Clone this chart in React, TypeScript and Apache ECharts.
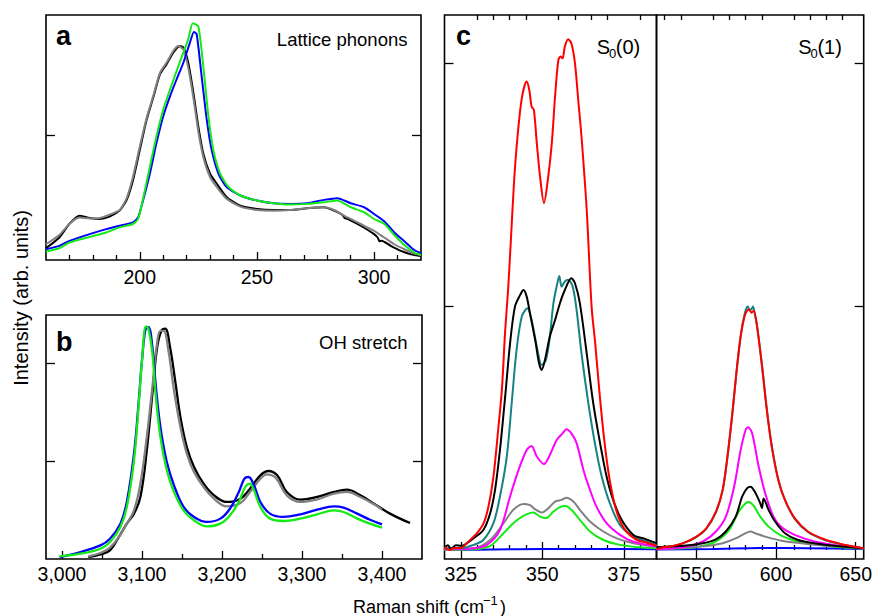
import React, { useEffect, useRef } from 'react';
import * as echarts from 'echarts';

const FONT = "'Liberation Sans', Arial, Helvetica, sans-serif";

// ---------- Panel a: Lattice phonons ----------
const aXMajor = [200, 250, 300];
const aXMinor = [170, 180, 190, 210, 220, 230, 240, 260, 270, 280, 290, 310];
const aYTicks = [1];
const aBlack = [[160,0.094],[165.7,0.18],[170,0.29],[174.3,0.355],[178.6,0.336],[182.9,0.328],[187.1,0.347],[191.4,0.395],[194.3,0.476],[197.1,0.637],[200,0.879],[202.9,1.12],[205.7,1.296],[208.6,1.484],[211.4,1.565],[214.3,1.659],[217.1,1.712],[218.6,1.70],[220.7,1.578],[222.9,1.336],[225,1.067],[227.1,0.852],[230,0.69],[232.9,0.61],[237.1,0.503],[242.9,0.435],[250,0.409],[257.1,0.40],[264.3,0.40],[271.4,0.414],[278.6,0.422],[282.9,0.395],[286.5,0.36],[287.5,0.335],[288.6,0.33],[294.3,0.274],[300,0.207],[301.5,0.18],[302.3,0.15],[303.2,0.155],[307.1,0.113],[311.4,0.073],[315.7,0.046],[320,0.032]];
const aGray = [[160,0.126],[165.7,0.2],[170,0.29],[174.3,0.34],[178.6,0.333],[182.9,0.336],[187.1,0.363],[191.4,0.40],[194.3,0.489],[197.1,0.664],[200,0.906],[202.9,1.134],[205.7,1.309],[208.6,1.497],[211.4,1.578],[214.3,1.672],[216.4,1.712],[218.6,1.685],[220.7,1.538],[222.9,1.296],[225,1.027],[227.1,0.825],[230,0.664],[232.9,0.583],[237.1,0.489],[242.9,0.427],[250,0.40],[257.1,0.395],[264.3,0.40],[271.4,0.414],[278.6,0.422],[282.9,0.40],[288.6,0.341],[294.3,0.288],[300,0.234],[304.3,0.18],[308.6,0.126],[312.9,0.086],[317.1,0.051],[320,0.04]];
const aBlue = [[160,0.086],[165.7,0.113],[170,0.153],[178.6,0.207],[185.7,0.247],[191.4,0.274],[197.1,0.301],[199.3,0.341],[201.4,0.476],[204.3,0.69],[207.1,0.933],[210,1.148],[212.9,1.309],[215.7,1.444],[218.6,1.578],[221.4,1.739],[223.1,1.825],[224.3,1.806],[226.4,1.47],[228.6,1.121],[230.7,0.879],[233.6,0.69],[237.1,0.583],[242.9,0.516],[250,0.476],[257.1,0.454],[264.3,0.449],[271.4,0.454],[278.6,0.481],[284.3,0.495],[290,0.454],[295.7,0.422],[300,0.368],[304.3,0.31],[308.6,0.22],[312.9,0.15],[317.1,0.08],[320,0.054]];
const aGreen = [[160,0.067],[165.7,0.094],[170,0.14],[178.6,0.185],[185.7,0.22],[191.4,0.261],[197.1,0.288],[199.3,0.328],[201.4,0.489],[204.3,0.745],[207.1,0.987],[210,1.202],[212.9,1.363],[215.7,1.511],[218.6,1.659],[220.7,1.766],[222.6,1.895],[225,1.868],[227.1,1.551],[229.3,1.148],[231.4,0.879],[234.3,0.69],[237.9,0.583],[242.9,0.516],[250,0.476],[257.1,0.454],[264.3,0.444],[271.4,0.449],[278.6,0.462],[284.3,0.476],[290,0.422],[295.7,0.382],[300,0.328],[304.3,0.29],[308.6,0.2],[312.9,0.12],[317.1,0.06],[320,0.04]];

// ---------- Panel b: OH stretch ----------
const bXMajor = [3000, 3100, 3200, 3300, 3400];
const bXMinor = [3050, 3150, 3250, 3350];
const bYTicks = [1, 2];
const bBlack = [[3033,0.02],[3048,0.048],[3060,0.088],[3071,0.224],[3081,0.361],[3090,0.463],[3098,0.633],[3106,1.109],[3113,1.687],[3119,2.163],[3125,2.34],[3129,2.35],[3135,2.163],[3142,1.789],[3148,1.449],[3156,1.143],[3165,0.939],[3177,0.769],[3190,0.65],[3206,0.582],[3223,0.616],[3235,0.718],[3248,0.854],[3258,0.898],[3269,0.854],[3281,0.684],[3298,0.605],[3319,0.633],[3340,0.684],[3356,0.707],[3373,0.65],[3390,0.565],[3410,0.463],[3435,0.367]];
const bGray = [[3033,0.027],[3048,0.061],[3060,0.116],[3071,0.224],[3081,0.361],[3090,0.497],[3098,0.769],[3106,1.245],[3113,1.755],[3119,2.214],[3123,2.327],[3127,2.327],[3133,2.129],[3140,1.721],[3148,1.347],[3156,1.075],[3165,0.888],[3177,0.735],[3190,0.616],[3206,0.537],[3223,0.571],[3235,0.684],[3248,0.82],[3256,0.864],[3267,0.83],[3281,0.65],[3298,0.582],[3319,0.609],[3340,0.667],[3356,0.684],[3373,0.633],[3390,0.558],[3400,0.503]];
const bBlue = [[2997,0.02],[3023,0.071],[3048,0.139],[3060,0.207],[3073,0.361],[3081,0.582],[3090,1.075],[3096,1.619],[3100,2.027],[3105,2.361],[3108,2.367],[3113,2.163],[3117,1.789],[3123,1.347],[3131,0.99],[3140,0.752],[3152,0.531],[3165,0.429],[3181,0.378],[3198,0.412],[3210,0.514],[3221,0.684],[3228,0.82],[3233,0.837],[3240,0.752],[3248,0.582],[3260,0.463],[3277,0.429],[3298,0.456],[3319,0.503],[3340,0.537],[3352,0.524],[3369,0.463],[3385,0.401],[3400,0.354]];
const bGreen = [[2997,0.027],[3023,0.054],[3048,0.105],[3060,0.173],[3073,0.327],[3081,0.53],[3090,1.007],[3096,1.585],[3100,2.027],[3105,2.374],[3108,2.35],[3113,2.095],[3117,1.687],[3123,1.245],[3131,0.905],[3140,0.684],[3152,0.497],[3165,0.395],[3181,0.333],[3198,0.361],[3210,0.446],[3221,0.582],[3229,0.735],[3235,0.769],[3240,0.70],[3248,0.531],[3260,0.412],[3277,0.388],[3298,0.412],[3319,0.456],[3340,0.497],[3352,0.48],[3369,0.412],[3385,0.361],[3400,0.32]];

// ---------- Panel c, left: S0(0) ----------
const cLXMajor = [325, 350, 375];
const cLXMinor = [330, 335, 340, 345, 355, 360, 365, 370, 380];
const cYTicks = [1, 2];
const cLRed = [[320,0.012],[321.5,0.0],[323,0.008],[325,0.008],[327,0.03],[330,0.07],[332,0.11],[333.5,0.18],[335,0.3],[336.5,0.5],[337.6,0.66],[338.6,0.9],[339.5,1.07],[340.3,1.26],[341.3,1.507],[342.3,1.685],[343.7,1.856],[345.2,1.925],[346,1.89],[346.7,1.822],[347.4,1.808],[348.3,1.671],[349.3,1.534],[350.5,1.425],[351.8,1.534],[352.9,1.671],[353.9,1.863],[354.9,2.013],[355.6,2.027],[356.2,2.02],[356.9,2.068],[357.9,2.098],[358.9,2.082],[360,2.0],[361,1.849],[362,1.699],[363.6,1.398],[365.1,1.0],[366.2,0.85],[367.5,0.65],[369,0.45],[370.5,0.3],[372.5,0.17],[375,0.09],[378.5,0.045],[382,0.03],[385,0.018]];
const cLBlack = [[320,0.01],[321,0.02],[322,0.004],[323.5,0.02],[325,0.017],[328.9,0.048],[331.9,0.082],[334,0.151],[335.5,0.247],[337,0.41],[338.6,0.63],[340.1,0.849],[341.6,1.0],[343.2,1.048],[344.2,1.068],[345.2,1.041],[346.2,0.973],[347.8,0.863],[349,0.767],[349.8,0.74],[350.8,0.781],[352.3,0.877],[353.9,0.945],[355.4,1.014],[356.9,1.068],[358.9,1.116],[360,1.096],[361.5,1.014],[363.6,0.808],[365.6,0.603],[367.7,0.439],[369.7,0.302],[371.7,0.206],[374.3,0.124],[377.9,0.062],[380.9,0.048],[385,0.028]];
const cLTeal = [[320,0.007],[325,0.007],[328.9,0.021],[331.9,0.041],[335,0.11],[337,0.22],[339.1,0.384],[340.6,0.603],[342.1,0.822],[343.7,0.959],[345.4,0.993],[346.7,0.945],[348.3,0.836],[349.8,0.76],[351.1,0.781],[352.3,0.877],[353.4,1.014],[354.6,1.096],[355.2,1.126],[355.9,1.082],[356.9,1.103],[357.9,1.11],[359.3,1.082],[360.5,0.986],[362,0.808],[364.1,0.603],[366.1,0.439],[368.2,0.302],[370.7,0.192],[373.8,0.103],[377.9,0.055],[382,0.034],[385,0.021]];
const cLMagenta = [[320,0.003],[325,0.003],[328.9,0.007],[333,0.021],[337,0.082],[340.1,0.22],[342.7,0.329],[345.2,0.411],[346.7,0.427],[348.3,0.384],[350.5,0.353],[352.3,0.39],[354.4,0.452],[356.2,0.479],[357.4,0.496],[358.9,0.479],[360.5,0.439],[362.6,0.329],[364.6,0.247],[366.6,0.178],[369.7,0.11],[373.8,0.062],[377.9,0.034],[385,0.014]];
const cLGray = [[320,0.003],[328.9,0.007],[334,0.041],[338.1,0.11],[341.1,0.165],[344.2,0.189],[346.2,0.184],[347.8,0.167],[349.8,0.154],[351.8,0.171],[353.9,0.199],[355.9,0.206],[357.4,0.215],[359.5,0.199],[361.5,0.165],[364.6,0.117],[368.7,0.076],[372.8,0.048],[377.9,0.028],[385,0.014]];
const cLGreen = [[320,0.0],[328.9,0.003],[334,0.017],[338.1,0.069],[341.1,0.11],[344.2,0.14],[347.2,0.154],[349.3,0.137],[351.1,0.131],[353.4,0.158],[355.4,0.176],[357.2,0.181],[358.9,0.165],[361.5,0.124],[364.6,0.076],[368.7,0.041],[373.8,0.021],[379.9,0.011],[385,0.007]];
const cLBlue = [[320,0.0],[335,0.002],[350,0.004],[365,0.004],[385,0.003]];

// ---------- Panel c, right: S0(1) ----------
const cRXMajor = [550, 600, 650];
const cRXMinor = [530, 540, 560, 570, 580, 590, 610, 620, 630, 640];
const cRRed = [[525,0.003],[530,0.012],[533.5,0.014],[541.8,0.028],[550,0.055],[556.2,0.089],[562.3,0.158],[566.5,0.247],[569.5,0.384],[572.6,0.562],[575.1,0.726],[577.8,0.877],[580.5,0.966],[582.9,0.989],[584.6,0.975],[586,0.983],[588.1,0.918],[591.2,0.754],[594.2,0.576],[597.3,0.425],[601.4,0.288],[605.6,0.206],[611.7,0.131],[620,0.076],[630.2,0.044],[640.5,0.025],[648.8,0.014],[655,0.007]];
const cRTeal = [[525,0.01],[533.5,0.014],[541.8,0.028],[550,0.053],[556.2,0.087],[562.3,0.155],[566.5,0.245],[569.5,0.38],[572.6,0.56],[575.1,0.726],[577.8,0.88],[580.5,0.975],[582.3,1.0],[583.5,0.985],[584.6,0.99],[585.5,1.0],[586.5,0.975],[588.1,0.92],[591.2,0.76],[594.2,0.58],[597.3,0.43],[601.4,0.29],[605.6,0.205],[611.7,0.128],[620,0.074],[630.2,0.042],[640.5,0.024],[648.8,0.013],[655,0.007]];
const cRMagenta = [[525,0.003],[541.8,0.011],[554.1,0.035],[562.3,0.076],[568.5,0.137],[573.7,0.26],[577.8,0.411],[580.9,0.493],[582.5,0.504],[585,0.48],[589.1,0.343],[593.2,0.233],[598.4,0.137],[603.5,0.093],[611.7,0.062],[624.1,0.035],[636.4,0.021],[655,0.007]];
const cRBlack = [[525,0.011],[541.8,0.017],[554.1,0.028],[562.3,0.044],[568.5,0.076],[574.7,0.137],[578.8,0.22],[581.9,0.254],[584,0.26],[586.6,0.24],[590.1,0.192],[591.2,0.172],[592.2,0.212],[595.3,0.165],[599.4,0.117],[605.6,0.069],[613.8,0.041],[624.1,0.028],[636.4,0.017],[655,0.007]];
const cRGreen = [[525,0.003],[541.8,0.007],[554.1,0.017],[562.3,0.035],[570.6,0.083],[576.7,0.158],[580.9,0.192],[582.9,0.197],[586,0.181],[590.1,0.137],[595.3,0.096],[603.5,0.058],[613.8,0.035],[628.2,0.021],[640.5,0.011],[655,0.006]];
const cRGray = [[525,0.003],[552.1,0.014],[566.5,0.028],[574.7,0.048],[580.9,0.069],[584,0.076],[587,0.069],[593.2,0.055],[603.5,0.038],[615.8,0.028],[632.3,0.017],[655,0.007]];
const cRBlue = [[525,0.002],[560,0.004],[590,0.008],[620,0.007],[655,0.004]];

const COL = {
  black: '#000000',
  gray: '#808080',
  blue: '#0000ff',
  green: '#14ea14',
  red: '#ff0000',
  teal: '#178282',
  magenta: '#ff00ff',
};

type Panel = {
  rect: { left: number; top: number; width: number; height: number };
  xMin: number; xMax: number; yMin: number; yMax: number;
  xMajor: number[]; xMinor: number[]; topTicks: boolean;
  yLeft: number[]; yRight: number[];
  labelMargin: number; fmt?: (v: number) => string;
};

const PANELS: Panel[] = [
  { rect: { left: 46, top: 15, width: 375, height: 245 }, xMin: 160, xMax: 320, yMin: 0, yMax: 1.96,
    xMajor: aXMajor, xMinor: aXMinor, topTicks: false, yLeft: aYTicks, yRight: aYTicks, labelMargin: 7 },
  { rect: { left: 46, top: 315, width: 376, height: 244 }, xMin: 2980, xMax: 3450, yMin: 0, yMax: 2.49,
    xMajor: bXMajor, xMinor: bXMinor, topTicks: false, yLeft: bYTicks, yRight: bYTicks, labelMargin: 5,
    fmt: (v: number) => v.toLocaleString('en-US') },
  { rect: { left: 444.5, top: 15, width: 212, height: 544 }, xMin: 320, xMax: 385, yMin: -0.037, yMax: 2.198,
    xMajor: cLXMajor, xMinor: cLXMinor, topTicks: true, yLeft: cYTicks, yRight: [], labelMargin: 5 },
  { rect: { left: 656.5, top: 15, width: 210.5, height: 544 }, xMin: 525, xMax: 655, yMin: -0.037, yMax: 2.198,
    xMajor: cRXMajor, xMinor: cRXMinor, topTicks: true, yLeft: [], yRight: cYTicks, labelMargin: 5 },
];

function tickAxis(kind: 'x' | 'y', grid: number, min: number, max: number, position: string,
  values: number[], len: number, labels = false, margin = 6, fmt?: (v: number) => string) {
  return {
    type: 'value', gridIndex: grid, min, max, position,
    axisLine: { show: false },
    splitLine: { show: false },
    axisTick: { show: values.length > 0, inside: true, length: len, customValues: values,
      lineStyle: { color: '#000', width: 1.3 } },
    axisLabel: { show: labels, customValues: values, margin, color: '#000', fontSize: 19.5,
      fontFamily: FONT, formatter: fmt ? (v: number) => fmt(v) : undefined },
  };
}

function buildOption() {
  const grid: any[] = [];
  const xAxis: any[] = [];
  const yAxis: any[] = [];
  PANELS.forEach((p, i) => {
    grid.push({ ...p.rect, show: true, borderColor: '#000', borderWidth: 1.6, backgroundColor: 'transparent', containLabel: false });
    grid.push({ ...p.rect, show: false, containLabel: false });
    const g = 2 * i;
    xAxis.push(tickAxis('x', g, p.xMin, p.xMax, 'bottom', p.xMajor, 8, true, p.labelMargin, p.fmt));
    xAxis.push(tickAxis('x', g, p.xMin, p.xMax, 'top', p.topTicks ? p.xMajor : [], 9));
    xAxis.push(tickAxis('x', g + 1, p.xMin, p.xMax, 'bottom', p.xMinor, 5));
    xAxis.push(tickAxis('x', g + 1, p.xMin, p.xMax, 'top', p.topTicks ? p.xMinor : [], 5));
    yAxis.push(tickAxis('y', g, p.yMin, p.yMax, 'left', p.yLeft, 9));
    yAxis.push(tickAxis('y', g, p.yMin, p.yMax, 'right', p.yRight, 9));
    yAxis.push(tickAxis('y', g + 1, p.yMin, p.yMax, 'left', [], 5));
  });

  const line = (name: string, data: number[][], color: string, p: number, smooth: number, width = 2) => ({
    type: 'line', name, data, xAxisIndex: 4 * p, yAxisIndex: 3 * p,
    showSymbol: false, symbol: 'none', smooth, silent: true,
    lineStyle: { color, width }, itemStyle: { color }, clip: true,
  });

  const series = [
    line('a black', aBlack, COL.black, 0, 0.2),
    line('a gray', aGray, COL.gray, 0, 0.2),
    line('a blue', aBlue, COL.blue, 0, 0.2),
    line('a green', aGreen, COL.green, 0, 0.2),
    line('b black', bBlack, COL.black, 1, 0.4, 2.3),
    line('b gray', bGray, COL.gray, 1, 0.4, 2.3),
    line('b blue', bBlue, COL.blue, 1, 0.4, 2.3),
    line('b green', bGreen, COL.green, 1, 0.4, 2.3),
    line('cL blue', cLBlue, COL.blue, 2, 0.3),
    line('cL green', cLGreen, COL.green, 2, 0.3),
    line('cL gray', cLGray, COL.gray, 2, 0.3),
    line('cL magenta', cLMagenta, COL.magenta, 2, 0.3),
    line('cL teal', cLTeal, COL.teal, 2, 0.3),
    line('cL black', cLBlack, COL.black, 2, 0.3),
    line('cL red', cLRed, COL.red, 2, 0.3),
    line('cR blue', cRBlue, COL.blue, 3, 0.3),
    line('cR green', cRGreen, COL.green, 3, 0.3),
    line('cR gray', cRGray, COL.gray, 3, 0.3),
    line('cR magenta', cRMagenta, COL.magenta, 3, 0.3),
    line('cR teal', cRTeal, COL.teal, 3, 0.3),
    line('cR black', cRBlack, COL.black, 3, 0.3),
    line('cR red', cRRed, COL.red, 3, 0.3),
  ];

  const txt = (text: string, x: number, y: number, size: number, opts: any = {}) => ({
    type: 'text', x, y, silent: true, z: 100,
    rotation: opts.rotation || 0,
    style: {
      text, fill: '#000', fontSize: size, fontFamily: FONT, fontWeight: opts.bold ? 'bold' : 'normal',
      textAlign: opts.align || 'left', align: opts.align || 'left',
      textVerticalAlign: 'middle', verticalAlign: 'middle',
    },
  });

  const graphic = [
    txt('a', 56, 36, 27, { bold: true }),
    txt('b', 56, 341.5, 27, { bold: true }),
    txt('c', 456, 36, 27, { bold: true }),
    txt('Lattice phonons', 407.5, 39, 18.5, { align: 'right' }),
    txt('OH stretch', 407.5, 342.5, 18.5, { align: 'right' }),
    txt('S', 596.7, 47, 20),
    txt('0', 609, 53.5, 13),
    txt('(0)', 615.8, 47, 20),
    txt('S', 798.3, 47, 20),
    txt('0', 810.6, 53.5, 13),
    txt('(1)', 817.4, 47, 20),
    txt('Intensity (arb. units)', 20.5, 298, 20, { align: 'center', rotation: Math.PI / 2 }),
    txt('Raman shift (cm', 353, 606.5, 18),
    txt('\u22121', 483, 600, 13),
    txt(')', 500, 606.5, 18),
  ];

  return { animation: false, backgroundColor: '#ffffff', grid, xAxis, yAxis, series, graphic };
}

export default function App() {
  const ref = useRef<HTMLDivElement>(null);
  useEffect(() => {
    if (!ref.current) return;
    const chart = echarts.init(ref.current, undefined, { renderer: 'svg' });
    chart.setOption(buildOption() as any);
    return () => chart.dispose();
  }, []);
  return (
    <div
      ref={ref}
      style={{ position: 'fixed', left: 0, top: 0, width: 875, height: 616, background: '#fff' }}
    />
  );
}
